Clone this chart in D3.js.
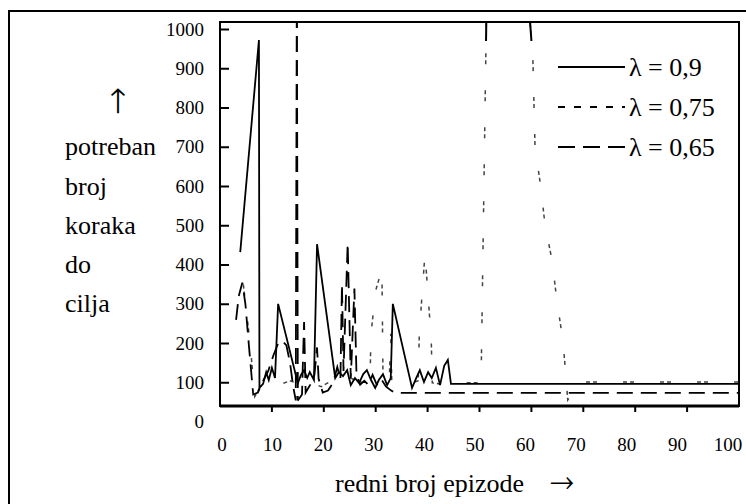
<!DOCTYPE html>
<html>
<head>
<meta charset="utf-8">
<script src="https://cdn.jsdelivr.net/npm/d3@7"></script>
<style>
body { margin: 0; background: #fff; }
svg { display: block; }
</style>
</head>
<body>
<div id="chart"></div>
<script>
var w = 746;
var h = 504;

// data (episode, steps)
var ep09 = [3.9, 7.5, 7.6, 8.3, 8.9, 9.4, 10.0, 10.6, 11.2, 15.0, 15.6, 16.2, 16.8, 17.3, 18.1, 18.7,
    22.2, 22.9, 23.7, 24.5, 25.2, 26.0, 26.8, 27.6, 28.3, 29.1, 29.9, 30.6, 31.4, 32.2, 32.9, 33.3,
    37.0, 37.8, 38.5, 39.3, 40.1, 40.8, 41.6, 42.4, 43.2, 43.9, 44.5, 100];
var st09 = [433, 973, 87, 97, 127, 107, 138, 112, 301, 99, 120, 132, 112, 127, 107, 453,
    112, 127, 117, 132, 94, 112, 99, 122, 132, 107, 87, 107, 122, 94, 112, 301,
    87, 112, 132, 102, 127, 112, 138, 94, 143, 158, 97, 97];

var ep075 = [4.5, 5.8, 6.7, 7.8, 9.5, 11.5, 13.5, 15.5, 17.5, 19.5, 21.5, 23.5, 25.5, 27.5,
    28.9, 29.1, 30.0, 31.2, 31.4, 32.6, 32.9, 33.1, 35, 37, 38.2, 38.4, 39.5, 40.7, 40.9,
    43, 46, 50.3, 51.4, 59.3, 60.3, 60.7, 61.8, 62.6, 64.0, 64.9, 66.1, 66.7, 67.0, 69.4, 100];
var st075 = [350, 200, 65, 90, 100, 95, 105, 95, 100, 90, 105, 95, 110, 100,
    105, 225, 335, 390, 120, 100, 225, 100, 95, 100, 105, 225, 430, 210, 100,
    95, 100, 100, 1100, 1100, 917, 700, 600, 505, 410, 310, 205, 107, 56, 102, 102];

var ep065 = [3.1, 3.6, 4.3, 4.9, 5.6, 6.4, 7.3, 8.3, 9.3, 10.3, 11.2, 12.0, 12.8, 13.5, 14.1,
    14.6, 14.8, 15.0, 15.8, 16.2, 16.5, 17.4, 18.2, 18.7, 19.0, 19.8, 20.8, 21.8, 22.6, 23.2,
    23.5, 23.8, 24.6, 25.2, 25.9, 26.3, 27.0, 27.8, 28.6, 29.4, 30.2, 31.0, 32.0, 33.0, 33.7, 100];
var st065 = [260, 320, 355, 300, 190, 70, 75, 105, 130, 170, 200, 207, 195, 150, 90,
    55, 1100, 55, 70, 255, 75, 95, 120, 190, 110, 75, 80, 100, 140, 110,
    350, 130, 455, 110, 340, 120, 95, 105, 95, 120, 95, 110, 90, 80, 74, 74];

var yTicks = [100, 200, 300, 400, 500, 600, 700, 800, 900, 1000];
var yLabels = [0, 100, 200, 300, 400, 500, 600, 700, 800, 900, 1000];
var xTicks = [10, 20, 30, 40, 50, 60, 70, 80, 90];
var xLabels = ["0", "10", "20", "30", "40", "50", "60", "70", "80", "90", "100"];
var yTitle = ["potreban", "broj", "koraka", "do", "cilja"];
var legendLabels = ["\u03bb = 0,9", "\u03bb = 0,75", "\u03bb = 0,65"];

var frame = {left: 220, right: 739, top: 22, bottom: 406};
var serif = "Liberation Serif";
var arrowFont = "FreeSerif";

var svg = d3.select("#chart")
    .append("svg")
    .attr("width", w)
    .attr("height", h);

// outer border
svg.append("rect")
    .attr("x", 9).attr("y", 11)
    .attr("width", 760).attr("height", 510)
    .attr("fill", "none")
    .attr("stroke", "#000")
    .attr("stroke-width", 2);

var x = d3.scaleLinear().domain([0, 100]).range([frame.left, frame.right]);
var y = d3.scaleLinear().domain([0, 1000]).range([422, 29.5]);
var xLab = d3.scalePoint().domain(xLabels).range([222, 728]);

svg.append("clipPath").attr("id", "plot")
    .append("rect")
    .attr("x", frame.left).attr("y", frame.top)
    .attr("width", frame.right - frame.left)
    .attr("height", frame.bottom - frame.top);

svg.append("clipPath").attr("id", "topband")
    .append("rect")
    .attr("x", frame.left).attr("y", frame.top)
    .attr("width", frame.right - frame.left)
    .attr("height", 19);

// y ticks (inside the frame)
svg.selectAll("line.ytick")
    .data(yTicks)
    .enter()
    .append("line")
    .attr("class", "ytick")
    .attr("x1", frame.left).attr("x2", frame.left + 9)
    .attr("y1", function (d) { return y(d); })
    .attr("y2", function (d) { return y(d); })
    .attr("stroke", "#000")
    .attr("stroke-width", 2);

svg.selectAll("text.ylab")
    .data(yLabels)
    .enter()
    .append("text")
    .attr("class", "ylab")
    .text(function (d) { return d; })
    .attr("x", 204)
    .attr("y", function (d) { return y(d) + 6; })
    .attr("text-anchor", "end")
    .attr("font-family", serif)
    .attr("font-size", "19px");

// x ticks
svg.selectAll("line.xtick")
    .data(xTicks)
    .enter()
    .append("line")
    .attr("class", "xtick")
    .attr("x1", function (d) { return x(d); })
    .attr("x2", function (d) { return x(d); })
    .attr("y1", frame.bottom).attr("y2", frame.bottom + 6)
    .attr("stroke", "#000")
    .attr("stroke-width", 2);

svg.selectAll("text.xlab")
    .data(xLabels)
    .enter()
    .append("text")
    .attr("class", "xlab")
    .text(function (d) { return d; })
    .attr("x", function (d) { return xLab(d); })
    .attr("y", 451)
    .attr("text-anchor", "middle")
    .attr("font-family", serif)
    .attr("font-size", "19px");

// axis titles
svg.append("text")
    .text("redni broj epizode")
    .attr("x", 335).attr("y", 492)
    .attr("font-family", serif)
    .attr("font-size", "26px");
svg.append("text")
    .text("\u2192")
    .attr("x", 562).attr("y", 491)
    .attr("text-anchor", "middle")
    .attr("font-family", arrowFont)
    .attr("font-size", "30px");

svg.append("text")
    .text("\u2191")
    .attr("x", 118).attr("y", 113)
    .attr("text-anchor", "middle")
    .attr("font-family", arrowFont)
    .attr("font-size", "34px");

svg.selectAll("text.ytitle")
    .data(yTitle)
    .enter()
    .append("text")
    .attr("class", "ytitle")
    .text(function (d) { return d; })
    .attr("x", 65)
    .attr("y", function (d, i) { return y(700 - i * 100) + 8; })
    .attr("font-family", serif)
    .attr("font-size", "26px");

// series
var line = d3.line()
    .x(function (d) { return x(d[0]); })
    .y(function (d) { return y(d[1]); });

var s09 = d3.zip(ep09, st09);
var s075 = d3.zip(ep075, st075);
var s065 = d3.zip(ep065, st065);

var g = svg.append("g").attr("clip-path", "url(#plot)");

g.append("path")
    .attr("d", line(s075))
    .attr("fill", "none")
    .attr("stroke", "#444")
    .attr("stroke-width", 1.5)
    .attr("stroke-dasharray", "4,3,4,26");

// part above the scale drawn solid, as in the original
svg.append("g").attr("clip-path", "url(#topband)")
    .append("path")
    .attr("d", line(s075))
    .attr("fill", "none")
    .attr("stroke", "#000")
    .attr("stroke-width", 2);

// lambda 0.65: the way down from the tall spike is drawn upwards with the same
// dash phase as the way up, so the two read as one dashed line
var iTop = d3.maxIndex(st065);
var dash065 = "16,8";
var p1 = g.append("path")
    .attr("d", line(s065.slice(0, iTop + 1)))
    .attr("fill", "none")
    .attr("stroke", "#000")
    .attr("stroke-width", 1.8)
    .attr("stroke-dasharray", dash065);
var upLen = g.append("path").attr("d", line(s065.slice(iTop - 1, iTop + 1)));
var phase = p1.node().getTotalLength() - upLen.node().getTotalLength();
upLen.remove();

g.append("path")
    .attr("d", line([s065[iTop + 1], s065[iTop]]))
    .attr("fill", "none")
    .attr("stroke", "#000")
    .attr("stroke-width", 1.8)
    .attr("stroke-dasharray", dash065)
    .attr("stroke-dashoffset", phase);

g.append("path")
    .attr("d", line(s065.slice(iTop + 1)))
    .attr("fill", "none")
    .attr("stroke", "#000")
    .attr("stroke-width", 1.8)
    .attr("stroke-dasharray", dash065);

g.append("path")
    .attr("d", line(s09))
    .attr("fill", "none")
    .attr("stroke", "#000")
    .attr("stroke-width", 1.8);

// frame
svg.append("rect")
    .attr("x", frame.left).attr("y", frame.top)
    .attr("width", frame.right - frame.left)
    .attr("height", frame.bottom - frame.top)
    .attr("fill", "none")
    .attr("stroke", "#000")
    .attr("stroke-width", 2);
svg.append("line")
    .attr("x1", frame.left).attr("x2", frame.right)
    .attr("y1", frame.bottom).attr("y2", frame.bottom)
    .attr("stroke", "#000")
    .attr("stroke-width", 3);

// legend
var legDash = [null, "7,9", "17,8"];
var legend = svg.selectAll("g.leg")
    .data(legendLabels)
    .enter()
    .append("g")
    .attr("class", "leg")
    .attr("transform", function (d, i) { return "translate(0," + (67 + i * 40) + ")"; });

legend.append("line")
    .attr("x1", 558).attr("x2", 625)
    .attr("y1", 0).attr("y2", 0)
    .attr("stroke", "#000")
    .attr("stroke-width", 1.8)
    .attr("stroke-dasharray", function (d, i) { return legDash[i]; });

legend.append("text")
    .text(function (d) { return d; })
    .attr("x", 629)
    .attr("y", 9)
    .attr("font-family", serif)
    .attr("font-size", "26px");
</script>
</body>
</html>
